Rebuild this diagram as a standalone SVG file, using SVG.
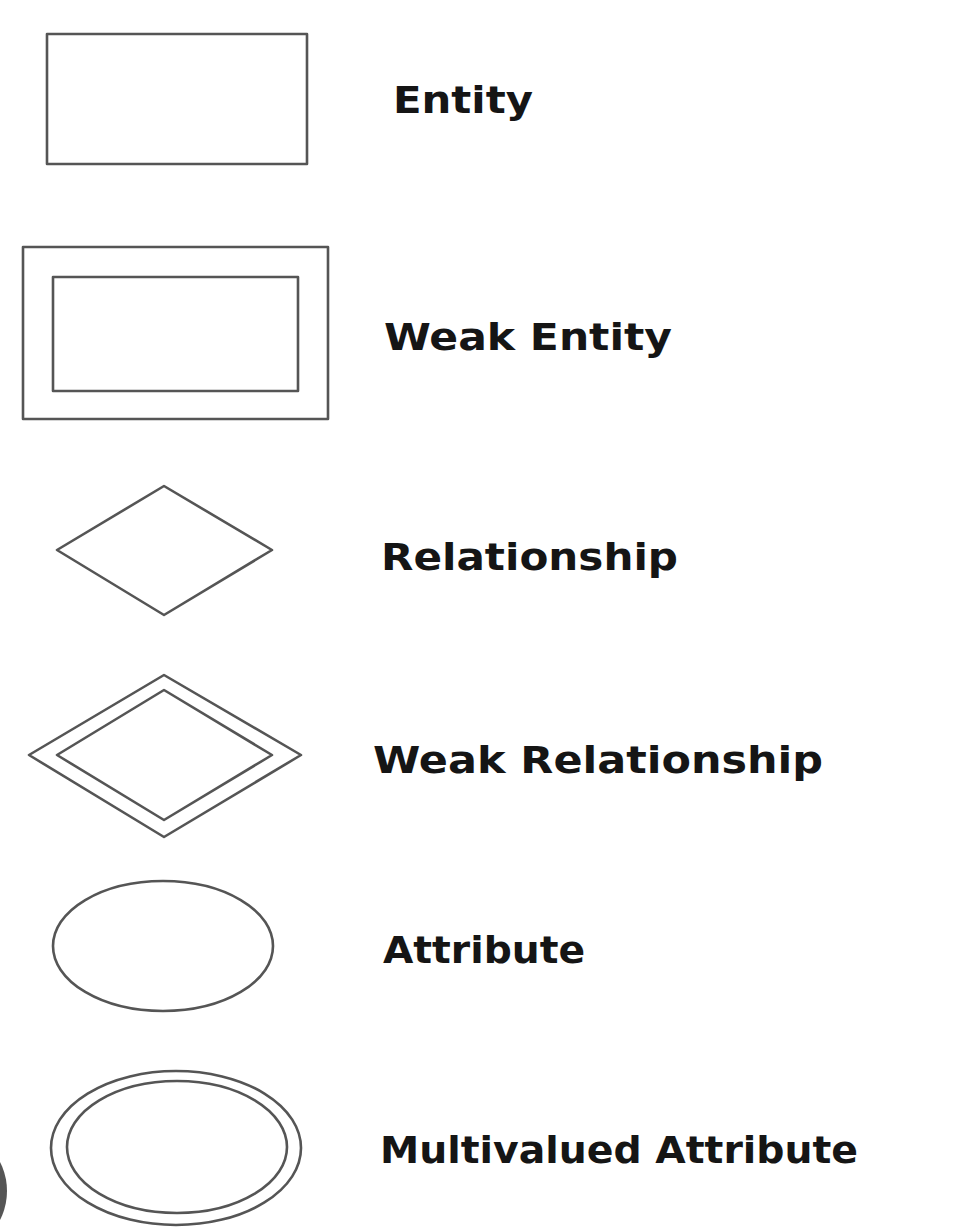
<svg xmlns="http://www.w3.org/2000/svg" width="961" height="1229" viewBox="0 0 961 1229">
  <style>
    .shape { fill: none; stroke: #555; stroke-width: 2.6; stroke-linejoin: round; }
    .label { font-family: "DejaVu Sans", Verdana, sans-serif; font-weight: bold; font-size: 38px; fill: #151515; }
  </style>
  <rect x="0" y="0" width="961" height="1229" fill="#ffffff"/>
  <g id="entity">
    <rect class="shape" x="47" y="34" width="260" height="130"/>
    <text class="label" x="393" y="113" textLength="140" lengthAdjust="spacingAndGlyphs">Entity</text>
  </g>
  <g id="weak-entity">
    <rect class="shape" x="23" y="247" width="305" height="172"/>
    <rect class="shape" x="53" y="277" width="245" height="114"/>
    <text class="label" x="384" y="350" textLength="288" lengthAdjust="spacingAndGlyphs">Weak Entity</text>
  </g>
  <g id="relationship">
    <polygon class="shape" points="164,486 272,550 164,615 57,550"/>
    <text class="label" x="381" y="570" textLength="297" lengthAdjust="spacingAndGlyphs">Relationship</text>
  </g>
  <g id="weak-relationship">
    <polygon class="shape" points="164,675 301,755 164,837 29,755"/>
    <polygon class="shape" points="164,690 272,755 164,820 57,755"/>
    <text class="label" x="373" y="773" textLength="450" lengthAdjust="spacingAndGlyphs">Weak Relationship</text>
  </g>
  <g id="attribute">
    <ellipse class="shape" cx="163" cy="946" rx="110" ry="65"/>
    <text class="label" x="383" y="963" textLength="202" lengthAdjust="spacingAndGlyphs">Attribute</text>
  </g>
  <g id="multivalued-attribute">
    <ellipse class="shape" cx="176" cy="1148" rx="125" ry="77"/>
    <ellipse class="shape" cx="177" cy="1147" rx="110" ry="66"/>
    <text class="label" x="380" y="1163" textLength="478" lengthAdjust="spacingAndGlyphs">Multivalued Attribute</text>
  </g>
  <g id="connectors"></g>
  <circle cx="-57" cy="1191" r="64" fill="#555"/>
</svg>
